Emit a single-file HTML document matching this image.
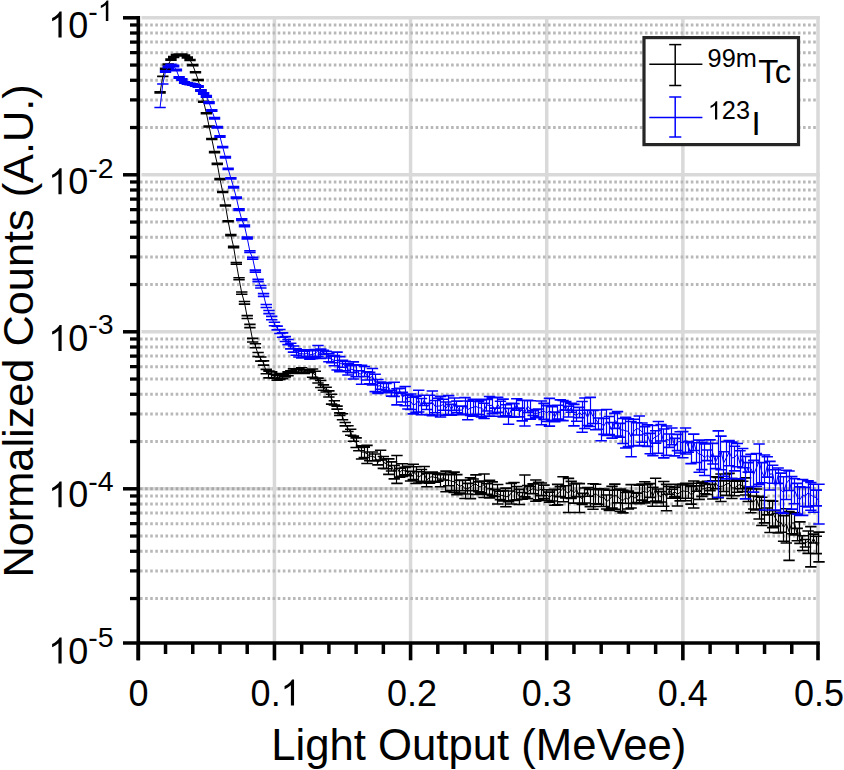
<!DOCTYPE html>
<html><head><meta charset="utf-8"><style>
html,body{margin:0;padding:0;background:#fff;width:844px;height:770px;overflow:hidden}
svg text{font-family:"Liberation Sans",sans-serif}
</style></head><body>
<svg width="844" height="770" viewBox="0 0 844 770" style="display:block">
<rect width="844" height="770" fill="#fff"/>
<line x1="141.5" y1="17.80" x2="819.8" y2="17.80" stroke="#d9d9d9" stroke-width="3.5"/>
<line x1="141.5" y1="174.80" x2="819.8" y2="174.80" stroke="#d9d9d9" stroke-width="3.5"/>
<line x1="141.5" y1="331.80" x2="819.8" y2="331.80" stroke="#d9d9d9" stroke-width="3.5"/>
<line x1="141.5" y1="488.80" x2="819.8" y2="488.80" stroke="#d9d9d9" stroke-width="3.5"/>
<line x1="140" y1="488.80" x2="818" y2="488.80" stroke="#a8a8a8" stroke-width="3" stroke-dasharray="2.6 2.5"/>
<line x1="274.44" y1="16" x2="274.44" y2="643.0" stroke="#d9d9d9" stroke-width="3.5"/>
<line x1="410.58" y1="16" x2="410.58" y2="643.0" stroke="#d9d9d9" stroke-width="3.5"/>
<line x1="546.72" y1="16" x2="546.72" y2="643.0" stroke="#d9d9d9" stroke-width="3.5"/>
<line x1="682.86" y1="16" x2="682.86" y2="643.0" stroke="#d9d9d9" stroke-width="3.5"/>
<line x1="818.00" y1="16" x2="818.00" y2="643.0" stroke="#d9d9d9" stroke-width="3.5"/>
<line x1="140" y1="127.54" x2="818" y2="127.54" stroke="#b8b8b8" stroke-width="3" stroke-dasharray="2.6 2.5"/>
<line x1="140" y1="99.89" x2="818" y2="99.89" stroke="#b8b8b8" stroke-width="3" stroke-dasharray="2.6 2.5"/>
<line x1="140" y1="80.28" x2="818" y2="80.28" stroke="#b8b8b8" stroke-width="3" stroke-dasharray="2.6 2.5"/>
<line x1="140" y1="65.06" x2="818" y2="65.06" stroke="#b8b8b8" stroke-width="3" stroke-dasharray="2.6 2.5"/>
<line x1="140" y1="52.63" x2="818" y2="52.63" stroke="#b8b8b8" stroke-width="3" stroke-dasharray="2.6 2.5"/>
<line x1="140" y1="42.12" x2="818" y2="42.12" stroke="#b8b8b8" stroke-width="3" stroke-dasharray="2.6 2.5"/>
<line x1="140" y1="33.01" x2="818" y2="33.01" stroke="#b8b8b8" stroke-width="3" stroke-dasharray="2.6 2.5"/>
<line x1="140" y1="24.98" x2="818" y2="24.98" stroke="#b8b8b8" stroke-width="3" stroke-dasharray="2.6 2.5"/>
<line x1="140" y1="284.54" x2="818" y2="284.54" stroke="#b8b8b8" stroke-width="3" stroke-dasharray="2.6 2.5"/>
<line x1="140" y1="256.89" x2="818" y2="256.89" stroke="#b8b8b8" stroke-width="3" stroke-dasharray="2.6 2.5"/>
<line x1="140" y1="237.28" x2="818" y2="237.28" stroke="#b8b8b8" stroke-width="3" stroke-dasharray="2.6 2.5"/>
<line x1="140" y1="222.06" x2="818" y2="222.06" stroke="#b8b8b8" stroke-width="3" stroke-dasharray="2.6 2.5"/>
<line x1="140" y1="209.63" x2="818" y2="209.63" stroke="#b8b8b8" stroke-width="3" stroke-dasharray="2.6 2.5"/>
<line x1="140" y1="199.12" x2="818" y2="199.12" stroke="#b8b8b8" stroke-width="3" stroke-dasharray="2.6 2.5"/>
<line x1="140" y1="190.01" x2="818" y2="190.01" stroke="#b8b8b8" stroke-width="3" stroke-dasharray="2.6 2.5"/>
<line x1="140" y1="181.98" x2="818" y2="181.98" stroke="#b8b8b8" stroke-width="3" stroke-dasharray="2.6 2.5"/>
<line x1="140" y1="441.54" x2="818" y2="441.54" stroke="#b8b8b8" stroke-width="3" stroke-dasharray="2.6 2.5"/>
<line x1="140" y1="413.89" x2="818" y2="413.89" stroke="#b8b8b8" stroke-width="3" stroke-dasharray="2.6 2.5"/>
<line x1="140" y1="394.28" x2="818" y2="394.28" stroke="#b8b8b8" stroke-width="3" stroke-dasharray="2.6 2.5"/>
<line x1="140" y1="379.06" x2="818" y2="379.06" stroke="#b8b8b8" stroke-width="3" stroke-dasharray="2.6 2.5"/>
<line x1="140" y1="366.63" x2="818" y2="366.63" stroke="#b8b8b8" stroke-width="3" stroke-dasharray="2.6 2.5"/>
<line x1="140" y1="356.12" x2="818" y2="356.12" stroke="#b8b8b8" stroke-width="3" stroke-dasharray="2.6 2.5"/>
<line x1="140" y1="347.01" x2="818" y2="347.01" stroke="#b8b8b8" stroke-width="3" stroke-dasharray="2.6 2.5"/>
<line x1="140" y1="338.98" x2="818" y2="338.98" stroke="#b8b8b8" stroke-width="3" stroke-dasharray="2.6 2.5"/>
<line x1="140" y1="598.54" x2="818" y2="598.54" stroke="#b8b8b8" stroke-width="3" stroke-dasharray="2.6 2.5"/>
<line x1="140" y1="570.89" x2="818" y2="570.89" stroke="#b8b8b8" stroke-width="3" stroke-dasharray="2.6 2.5"/>
<line x1="140" y1="551.28" x2="818" y2="551.28" stroke="#b8b8b8" stroke-width="3" stroke-dasharray="2.6 2.5"/>
<line x1="140" y1="536.06" x2="818" y2="536.06" stroke="#b8b8b8" stroke-width="3" stroke-dasharray="2.6 2.5"/>
<line x1="140" y1="523.63" x2="818" y2="523.63" stroke="#b8b8b8" stroke-width="3" stroke-dasharray="2.6 2.5"/>
<line x1="140" y1="513.12" x2="818" y2="513.12" stroke="#b8b8b8" stroke-width="3" stroke-dasharray="2.6 2.5"/>
<line x1="140" y1="504.01" x2="818" y2="504.01" stroke="#b8b8b8" stroke-width="3" stroke-dasharray="2.6 2.5"/>
<line x1="140" y1="495.98" x2="818" y2="495.98" stroke="#b8b8b8" stroke-width="3" stroke-dasharray="2.6 2.5"/>
<g><path d="M160.50 91.90V92.90M162.50 76.35V76.45M165.50 68.30V69.30M168.50 64.00V65.00M170.50 59.10V60.10M173.50 56.50V57.50M176.50 54.50V55.50M179.50 54.00V55.00M181.50 54.10V55.10M184.50 55.00V56.00M187.50 57.00V58.00M190.50 59.50V60.50M192.50 64.60V65.60M195.50 71.80V72.80M198.50 79.50V80.50M200.50 90.00V91.00M203.50 101.30V102.30M206.50 112.70V113.70M209.50 126.00V127.00M211.50 138.50V139.50M214.50 151.60V152.60M217.50 163.40V164.40M219.50 178.60V179.60M222.50 191.50V192.50M225.50 205.00V206.00M228.50 220.70V221.70M230.50 234.66V235.75M233.50 246.21V247.60M236.50 262.57V264.24M239.50 277.82V279.79M241.50 291.98V294.24M244.50 301.54V304.08M247.50 315.66V318.57M249.50 324.37V327.67M252.50 338.39V342.06M255.50 343.72V347.73M258.50 352.49V356.57M260.50 356.95V361.11M263.50 360.92V365.15M266.50 369.38V373.68M268.50 371.15V377.85M271.50 371.88V378.04M274.50 374.28V378.08M277.50 375.57V380.15M279.50 373.60V379.47M282.50 374.36V378.77M285.50 373.80V376.88M288.50 371.83V375.72M290.50 370.86V373.44M293.50 368.88V373.24M296.50 369.19V373.48M298.50 369.24V372.14M301.50 367.76V373.29M304.50 369.74V373.38M307.50 369.85V372.17M309.50 370.26V372.45M312.50 368.94V377.27M315.50 371.27V378.76M318.50 378.12V382.99M320.50 380.53V387.48M323.50 384.87V390.19M326.50 387.31V392.05M328.50 390.91V397.04M331.50 394.23V404.11M334.50 400.75V405.05M337.50 406.14V409.10M339.50 412.86V415.56M342.50 413.81V419.69M345.50 422.46V425.83M347.50 425.72V431.44M350.50 429.21V435.23M353.50 436.10V441.27M356.50 437.83V447.53M358.50 447.48V450.80M361.50 445.86V458.96M364.50 447.10V457.53M367.50 445.37V463.55M369.50 451.96V460.72M372.50 452.05V461.00M375.50 453.95V460.88M377.50 460.27V464.92M380.50 450.32V459.96M383.50 456.50V468.42M386.50 458.94V468.77M388.50 458.83V474.39M391.50 461.83V471.05M394.50 465.44V478.86M396.50 455.52V483.38M399.50 468.28V477.08M402.50 463.71V476.41M405.50 467.42V474.89M407.50 466.31V475.72M410.50 471.23V481.02M413.50 464.18V479.57M416.50 466.82V483.50M418.50 471.79V483.04M421.50 469.45V481.39M424.50 466.45V482.51M426.50 473.49V486.80M429.50 471.99V483.29M432.50 472.16V481.34M435.50 473.17V482.30M437.50 474.36V481.24M440.50 473.38V486.68M443.50 474.82V480.07M445.50 471.14V491.82M448.50 474.69V485.75M451.50 473.06V490.66M454.50 472.14V492.43M456.50 474.64V494.62M459.50 480.34V493.04M462.50 480.16V490.78M465.50 480.32V498.57M467.50 483.38V494.01M470.50 477.71V498.62M473.50 478.93V490.78M475.50 474.88V494.46M478.50 481.91V491.70M481.50 481.16V492.90M484.50 474.00V497.43M486.50 483.72V494.42M489.50 480.35V497.88M492.50 481.84V495.54M494.50 489.42V496.46M497.50 484.51V503.93M500.50 491.18V499.65M503.50 490.59V500.87M505.50 488.16V506.71M508.50 491.05V501.80M511.50 483.42V504.01M514.50 482.49V500.38M516.50 486.57V499.72M519.50 489.41V504.57M522.50 492.55V499.14M524.50 474.97V496.91M527.50 485.48V498.59M530.50 486.50V493.46M533.50 483.89V493.75M535.50 479.93V501.25M538.50 482.41V499.81M541.50 483.04V495.67M543.50 485.17V498.63M546.50 489.81V500.45M549.50 492.08V502.31M552.50 489.86V501.00M554.50 489.23V505.29M557.50 484.36V504.90M560.50 486.60V496.67M563.50 476.80V501.76M565.50 485.77V497.89M568.50 478.41V512.51M571.50 481.33V498.38M573.50 484.01V503.14M576.50 483.38V496.60M579.50 483.58V512.57M582.50 493.41V504.48M584.50 488.06V503.00M587.50 487.53V496.32M590.50 489.33V506.63M593.50 483.76V509.32M595.50 484.32V503.77M598.50 488.84V504.26M601.50 489.59V506.55M603.50 488.97V506.55M606.50 495.05V509.01M609.50 490.19V510.35M612.50 486.41V508.15M614.50 484.11V509.26M617.50 489.87V502.87M620.50 489.17V511.23M622.50 490.30V512.90M625.50 492.51V503.29M628.50 491.14V508.98M631.50 484.67V508.01M633.50 492.56V503.34M636.50 493.32V502.62M639.50 485.25V503.82M642.50 484.07V500.12M644.50 481.81V503.05M647.50 484.68V501.69M650.50 483.61V497.39M652.50 487.29V506.27M655.50 478.26V501.15M658.50 488.98V502.58M661.50 491.63V501.99M663.50 481.55V506.24M666.50 484.42V510.80M669.50 486.44V494.20M671.50 489.29V498.21M674.50 487.16V496.63M677.50 484.19V505.99M680.50 484.91V500.83M682.50 484.17V498.21M685.50 483.24V500.71M688.50 485.01V498.32M691.50 486.46V504.16M693.50 481.04V507.96M696.50 483.20V491.26M699.50 485.85V499.39M701.50 482.17V496.42M704.50 483.90V493.73M707.50 481.38V494.51M710.50 484.42V490.63M712.50 480.88V498.94M715.50 476.90V488.69M718.50 477.34V497.67M720.50 473.98V501.48M723.50 480.91V491.51M726.50 474.00V495.28M729.50 473.39V495.52M731.50 478.52V498.52M734.50 481.08V495.82M737.50 479.75V492.23M740.50 480.37V488.82M742.50 481.22V491.62M745.50 477.86V494.95M748.50 487.31V501.50M750.50 488.82V512.74M753.50 495.98V508.99M756.50 488.97V509.87M759.50 496.40V518.96M761.50 497.32V525.50M764.50 500.44V522.88M767.50 507.95V514.84M769.50 500.66V532.50M772.50 501.16V527.65M775.50 510.79V525.95M778.50 513.49V533.02M780.50 513.26V532.29M783.50 515.75V541.23M786.50 508.78V542.99M789.50 511.60V560.33M791.50 513.64V533.82M794.50 512.68V535.02M797.50 528.40V540.75M799.50 521.91V543.38M802.50 535.79V550.56M805.50 539.44V546.95M808.50 531.06V553.34M810.50 526.58V566.83M813.50 534.16V542.99M816.50 536.21V553.65M818.50 532.16V561.92" stroke="#000" stroke-width="1.2" fill="none"/><path d="M154.38 91.90h11.4M154.38 92.90h11.4M157.10 76.35h11.4M157.10 76.45h11.4M159.83 68.30h11.4M159.83 69.30h11.4M162.55 64.00h11.4M162.55 65.00h11.4M165.27 59.10h11.4M165.27 60.10h11.4M167.99 56.50h11.4M167.99 57.50h11.4M170.72 54.50h11.4M170.72 55.50h11.4M173.44 54.00h11.4M173.44 55.00h11.4M176.16 54.10h11.4M176.16 55.10h11.4M178.89 55.00h11.4M178.89 56.00h11.4M181.61 57.00h11.4M181.61 58.00h11.4M184.33 59.50h11.4M184.33 60.50h11.4M187.05 64.60h11.4M187.05 65.60h11.4M189.78 71.80h11.4M189.78 72.80h11.4M192.50 79.50h11.4M192.50 80.50h11.4M195.22 90.00h11.4M195.22 91.00h11.4M197.94 101.30h11.4M197.94 102.30h11.4M200.67 112.70h11.4M200.67 113.70h11.4M203.39 126.00h11.4M203.39 127.00h11.4M206.11 138.50h11.4M206.11 139.50h11.4M208.84 151.60h11.4M208.84 152.60h11.4M211.56 163.40h11.4M211.56 164.40h11.4M214.28 178.60h11.4M214.28 179.60h11.4M217.00 191.50h11.4M217.00 192.50h11.4M219.73 205.00h11.4M219.73 206.00h11.4M222.45 220.70h11.4M222.45 221.70h11.4M225.17 234.66h11.4M225.17 235.75h11.4M227.90 246.21h11.4M227.90 247.60h11.4M230.62 262.57h11.4M230.62 264.24h11.4M233.34 277.82h11.4M233.34 279.79h11.4M236.06 291.98h11.4M236.06 294.24h11.4M238.79 301.54h11.4M238.79 304.08h11.4M241.51 315.66h11.4M241.51 318.57h11.4M244.23 324.37h11.4M244.23 327.67h11.4M246.96 338.39h11.4M246.96 342.06h11.4M249.68 343.72h11.4M249.68 347.73h11.4M252.40 352.49h11.4M252.40 356.57h11.4M255.12 356.95h11.4M255.12 361.11h11.4M257.85 360.92h11.4M257.85 365.15h11.4M260.57 369.38h11.4M260.57 373.68h11.4M263.29 371.15h11.4M263.29 377.85h11.4M266.01 371.88h11.4M266.01 378.04h11.4M268.74 374.28h11.4M268.74 378.08h11.4M271.46 375.57h11.4M271.46 380.15h11.4M274.18 373.60h11.4M274.18 379.47h11.4M276.91 374.36h11.4M276.91 378.77h11.4M279.63 373.80h11.4M279.63 376.88h11.4M282.35 371.83h11.4M282.35 375.72h11.4M285.07 370.86h11.4M285.07 373.44h11.4M287.80 368.88h11.4M287.80 373.24h11.4M290.52 369.19h11.4M290.52 373.48h11.4M293.24 369.24h11.4M293.24 372.14h11.4M295.97 367.76h11.4M295.97 373.29h11.4M298.69 369.74h11.4M298.69 373.38h11.4M301.41 369.85h11.4M301.41 372.17h11.4M304.13 370.26h11.4M304.13 372.45h11.4M306.86 368.94h11.4M306.86 377.27h11.4M309.58 371.27h11.4M309.58 378.76h11.4M312.30 378.12h11.4M312.30 382.99h11.4M315.03 380.53h11.4M315.03 387.48h11.4M317.75 384.87h11.4M317.75 390.19h11.4M320.47 387.31h11.4M320.47 392.05h11.4M323.19 390.91h11.4M323.19 397.04h11.4M325.92 394.23h11.4M325.92 404.11h11.4M328.64 400.75h11.4M328.64 405.05h11.4M331.36 406.14h11.4M331.36 409.10h11.4M334.08 412.86h11.4M334.08 415.56h11.4M336.81 413.81h11.4M336.81 419.69h11.4M339.53 422.46h11.4M339.53 425.83h11.4M342.25 425.72h11.4M342.25 431.44h11.4M344.98 429.21h11.4M344.98 435.23h11.4M347.70 436.10h11.4M347.70 441.27h11.4M350.42 437.83h11.4M350.42 447.53h11.4M353.14 447.48h11.4M353.14 450.80h11.4M355.87 445.86h11.4M355.87 458.96h11.4M358.59 447.10h11.4M358.59 457.53h11.4M361.31 445.37h11.4M361.31 463.55h11.4M364.04 451.96h11.4M364.04 460.72h11.4M366.76 452.05h11.4M366.76 461.00h11.4M369.48 453.95h11.4M369.48 460.88h11.4M372.20 460.27h11.4M372.20 464.92h11.4M374.93 450.32h11.4M374.93 459.96h11.4M377.65 456.50h11.4M377.65 468.42h11.4M380.37 458.94h11.4M380.37 468.77h11.4M383.10 458.83h11.4M383.10 474.39h11.4M385.82 461.83h11.4M385.82 471.05h11.4M388.54 465.44h11.4M388.54 478.86h11.4M391.26 455.52h11.4M391.26 483.38h11.4M393.99 468.28h11.4M393.99 477.08h11.4M396.71 463.71h11.4M396.71 476.41h11.4M399.43 467.42h11.4M399.43 474.89h11.4M402.15 466.31h11.4M402.15 475.72h11.4M404.88 471.23h11.4M404.88 481.02h11.4M407.60 464.18h11.4M407.60 479.57h11.4M410.32 466.82h11.4M410.32 483.50h11.4M413.05 471.79h11.4M413.05 483.04h11.4M415.77 469.45h11.4M415.77 481.39h11.4M418.49 466.45h11.4M418.49 482.51h11.4M421.21 473.49h11.4M421.21 486.80h11.4M423.94 471.99h11.4M423.94 483.29h11.4M426.66 472.16h11.4M426.66 481.34h11.4M429.38 473.17h11.4M429.38 482.30h11.4M432.11 474.36h11.4M432.11 481.24h11.4M434.83 473.38h11.4M434.83 486.68h11.4M437.55 474.82h11.4M437.55 480.07h11.4M440.27 471.14h11.4M440.27 491.82h11.4M443.00 474.69h11.4M443.00 485.75h11.4M445.72 473.06h11.4M445.72 490.66h11.4M448.44 472.14h11.4M448.44 492.43h11.4M451.17 474.64h11.4M451.17 494.62h11.4M453.89 480.34h11.4M453.89 493.04h11.4M456.61 480.16h11.4M456.61 490.78h11.4M459.33 480.32h11.4M459.33 498.57h11.4M462.06 483.38h11.4M462.06 494.01h11.4M464.78 477.71h11.4M464.78 498.62h11.4M467.50 478.93h11.4M467.50 490.78h11.4M470.22 474.88h11.4M470.22 494.46h11.4M472.95 481.91h11.4M472.95 491.70h11.4M475.67 481.16h11.4M475.67 492.90h11.4M478.39 474.00h11.4M478.39 497.43h11.4M481.12 483.72h11.4M481.12 494.42h11.4M483.84 480.35h11.4M483.84 497.88h11.4M486.56 481.84h11.4M486.56 495.54h11.4M489.28 489.42h11.4M489.28 496.46h11.4M492.01 484.51h11.4M492.01 503.93h11.4M494.73 491.18h11.4M494.73 499.65h11.4M497.45 490.59h11.4M497.45 500.87h11.4M500.18 488.16h11.4M500.18 506.71h11.4M502.90 491.05h11.4M502.90 501.80h11.4M505.62 483.42h11.4M505.62 504.01h11.4M508.34 482.49h11.4M508.34 500.38h11.4M511.07 486.57h11.4M511.07 499.72h11.4M513.79 489.41h11.4M513.79 504.57h11.4M516.51 492.55h11.4M516.51 499.14h11.4M519.24 474.97h11.4M519.24 496.91h11.4M521.96 485.48h11.4M521.96 498.59h11.4M524.68 486.50h11.4M524.68 493.46h11.4M527.40 483.89h11.4M527.40 493.75h11.4M530.13 479.93h11.4M530.13 501.25h11.4M532.85 482.41h11.4M532.85 499.81h11.4M535.57 483.04h11.4M535.57 495.67h11.4M538.29 485.17h11.4M538.29 498.63h11.4M541.02 489.81h11.4M541.02 500.45h11.4M543.74 492.08h11.4M543.74 502.31h11.4M546.46 489.86h11.4M546.46 501.00h11.4M549.19 489.23h11.4M549.19 505.29h11.4M551.91 484.36h11.4M551.91 504.90h11.4M554.63 486.60h11.4M554.63 496.67h11.4M557.35 476.80h11.4M557.35 501.76h11.4M560.08 485.77h11.4M560.08 497.89h11.4M562.80 478.41h11.4M562.80 512.51h11.4M565.52 481.33h11.4M565.52 498.38h11.4M568.25 484.01h11.4M568.25 503.14h11.4M570.97 483.38h11.4M570.97 496.60h11.4M573.69 483.58h11.4M573.69 512.57h11.4M576.41 493.41h11.4M576.41 504.48h11.4M579.14 488.06h11.4M579.14 503.00h11.4M581.86 487.53h11.4M581.86 496.32h11.4M584.58 489.33h11.4M584.58 506.63h11.4M587.31 483.76h11.4M587.31 509.32h11.4M590.03 484.32h11.4M590.03 503.77h11.4M592.75 488.84h11.4M592.75 504.26h11.4M595.47 489.59h11.4M595.47 506.55h11.4M598.20 488.97h11.4M598.20 506.55h11.4M600.92 495.05h11.4M600.92 509.01h11.4M603.64 490.19h11.4M603.64 510.35h11.4M606.36 486.41h11.4M606.36 508.15h11.4M609.09 484.11h11.4M609.09 509.26h11.4M611.81 489.87h11.4M611.81 502.87h11.4M614.53 489.17h11.4M614.53 511.23h11.4M617.26 490.30h11.4M617.26 512.90h11.4M619.98 492.51h11.4M619.98 503.29h11.4M622.70 491.14h11.4M622.70 508.98h11.4M625.42 484.67h11.4M625.42 508.01h11.4M628.15 492.56h11.4M628.15 503.34h11.4M630.87 493.32h11.4M630.87 502.62h11.4M633.59 485.25h11.4M633.59 503.82h11.4M636.32 484.07h11.4M636.32 500.12h11.4M639.04 481.81h11.4M639.04 503.05h11.4M641.76 484.68h11.4M641.76 501.69h11.4M644.48 483.61h11.4M644.48 497.39h11.4M647.21 487.29h11.4M647.21 506.27h11.4M649.93 478.26h11.4M649.93 501.15h11.4M652.65 488.98h11.4M652.65 502.58h11.4M655.38 491.63h11.4M655.38 501.99h11.4M658.10 481.55h11.4M658.10 506.24h11.4M660.82 484.42h11.4M660.82 510.80h11.4M663.54 486.44h11.4M663.54 494.20h11.4M666.27 489.29h11.4M666.27 498.21h11.4M668.99 487.16h11.4M668.99 496.63h11.4M671.71 484.19h11.4M671.71 505.99h11.4M674.43 484.91h11.4M674.43 500.83h11.4M677.16 484.17h11.4M677.16 498.21h11.4M679.88 483.24h11.4M679.88 500.71h11.4M682.60 485.01h11.4M682.60 498.32h11.4M685.33 486.46h11.4M685.33 504.16h11.4M688.05 481.04h11.4M688.05 507.96h11.4M690.77 483.20h11.4M690.77 491.26h11.4M693.49 485.85h11.4M693.49 499.39h11.4M696.22 482.17h11.4M696.22 496.42h11.4M698.94 483.90h11.4M698.94 493.73h11.4M701.66 481.38h11.4M701.66 494.51h11.4M704.39 484.42h11.4M704.39 490.63h11.4M707.11 480.88h11.4M707.11 498.94h11.4M709.83 476.90h11.4M709.83 488.69h11.4M712.55 477.34h11.4M712.55 497.67h11.4M715.28 473.98h11.4M715.28 501.48h11.4M718.00 480.91h11.4M718.00 491.51h11.4M720.72 474.00h11.4M720.72 495.28h11.4M723.45 473.39h11.4M723.45 495.52h11.4M726.17 478.52h11.4M726.17 498.52h11.4M728.89 481.08h11.4M728.89 495.82h11.4M731.61 479.75h11.4M731.61 492.23h11.4M734.34 480.37h11.4M734.34 488.82h11.4M737.06 481.22h11.4M737.06 491.62h11.4M739.78 477.86h11.4M739.78 494.95h11.4M742.50 487.31h11.4M742.50 501.50h11.4M745.23 488.82h11.4M745.23 512.74h11.4M747.95 495.98h11.4M747.95 508.99h11.4M750.67 488.97h11.4M750.67 509.87h11.4M753.40 496.40h11.4M753.40 518.96h11.4M756.12 497.32h11.4M756.12 525.50h11.4M758.84 500.44h11.4M758.84 522.88h11.4M761.56 507.95h11.4M761.56 514.84h11.4M764.29 500.66h11.4M764.29 532.50h11.4M767.01 501.16h11.4M767.01 527.65h11.4M769.73 510.79h11.4M769.73 525.95h11.4M772.46 513.49h11.4M772.46 533.02h11.4M775.18 513.26h11.4M775.18 532.29h11.4M777.90 515.75h11.4M777.90 541.23h11.4M780.62 508.78h11.4M780.62 542.99h11.4M783.35 511.60h11.4M783.35 560.33h11.4M786.07 513.64h11.4M786.07 533.82h11.4M788.79 512.68h11.4M788.79 535.02h11.4M791.52 528.40h11.4M791.52 540.75h11.4M794.24 521.91h11.4M794.24 543.38h11.4M796.96 535.79h11.4M796.96 550.56h11.4M799.68 539.44h11.4M799.68 546.95h11.4M802.41 531.06h11.4M802.41 553.34h11.4M805.13 526.58h11.4M805.13 566.83h11.4M807.85 534.16h11.4M807.85 542.99h11.4M810.57 536.21h11.4M810.57 553.65h11.4M813.30 532.16h11.4M813.30 561.92h11.4" stroke="#000" stroke-width="1.6" fill="none"/><path d="M160.08 92.40 162.80 76.40 165.53 68.80 168.25 64.50 170.97 59.60 173.69 57.00 176.42 55.00 179.14 54.50 181.86 54.60 184.59 55.50 187.31 57.50 190.03 60.00 192.75 65.10 195.48 72.30 198.20 80.00 200.92 90.50 203.64 101.80 206.37 113.20 209.09 126.50 211.81 139.00 214.54 152.10 217.26 163.90 219.98 179.10 222.70 192.00 225.43 205.50 228.15 221.20 230.87 235.20 233.60 246.90 236.32 263.40 239.04 278.80 241.76 293.10 244.49 302.80 247.21 317.10 249.93 326.00 252.66 340.20 255.38 345.70 258.10 354.50 260.82 359.00 263.55 363.00 266.27 371.50 268.99 374.42 271.71 374.89 274.44 376.15 277.16 377.82 279.88 376.47 282.61 376.53 285.33 375.33 288.05 373.75 290.77 372.14 293.50 371.02 296.22 371.30 298.94 370.67 301.67 370.47 304.39 371.53 307.11 371.00 309.83 371.34 312.56 372.98 315.28 374.92 318.00 380.51 320.73 383.92 323.45 387.48 326.17 389.64 328.89 393.90 331.62 398.99 334.34 402.87 337.06 407.60 339.78 414.20 342.51 416.68 345.23 424.12 347.95 428.52 350.68 432.15 353.40 438.64 356.12 442.51 358.84 449.12 361.57 452.10 364.29 452.11 367.01 453.86 369.74 456.20 372.46 456.38 375.18 457.33 377.90 462.56 380.63 454.97 383.35 462.20 386.07 463.68 388.80 466.17 391.52 466.29 394.24 471.82 396.96 468.03 399.69 472.54 402.41 469.77 405.13 471.05 407.85 470.85 410.58 475.95 413.30 471.44 416.02 474.65 418.75 477.18 421.47 475.16 424.19 474.01 426.91 479.82 429.64 477.41 432.36 476.59 435.08 477.58 437.81 477.71 440.53 479.71 443.25 477.39 445.97 480.69 448.70 479.99 451.42 481.29 454.14 481.53 456.87 483.90 459.59 486.40 462.31 485.26 465.03 488.84 467.76 488.49 470.48 487.37 473.20 484.60 475.92 483.97 478.65 486.63 481.37 486.78 484.09 484.71 486.82 488.86 489.54 488.55 492.26 488.35 494.98 492.85 497.71 493.53 500.43 495.29 503.15 495.53 505.88 496.81 508.60 496.21 511.32 492.94 514.04 490.85 516.77 492.83 519.49 496.57 522.21 495.76 524.94 485.06 527.66 491.72 530.38 489.89 533.10 488.64 535.83 489.76 538.55 490.56 541.27 489.06 543.99 491.57 546.72 494.92 549.44 497.01 552.16 495.20 554.89 496.79 557.61 493.86 560.33 491.45 563.05 488.15 565.78 491.56 568.50 493.35 571.22 489.32 573.95 492.91 576.67 489.67 579.39 496.55 582.11 498.72 584.84 495.12 587.56 491.78 590.28 497.43 593.01 495.35 595.73 493.36 598.45 496.12 601.17 497.54 603.90 497.19 606.62 501.67 609.34 499.53 612.06 496.42 614.79 495.53 617.51 496.06 620.23 499.31 622.96 500.67 625.68 497.69 628.40 499.48 631.12 495.35 633.85 497.74 636.57 497.81 639.29 493.90 642.02 491.63 644.74 491.61 647.46 492.65 650.18 490.15 652.91 496.12 655.63 488.75 658.35 495.44 661.08 496.61 663.80 492.78 666.52 496.34 669.24 490.21 671.97 493.60 674.69 491.73 677.41 494.22 680.13 492.41 682.86 490.83 685.58 491.42 688.30 491.34 691.03 494.74 693.75 493.18 696.47 487.11 699.19 492.29 701.92 488.92 704.64 488.64 707.36 487.63 710.09 487.45 712.81 489.31 715.53 482.54 718.25 486.75 720.98 486.35 723.70 486.00 726.42 483.81 729.15 483.56 731.87 487.79 734.59 488.05 737.31 485.71 740.04 484.47 742.76 486.23 745.48 485.87 748.20 494.04 750.93 499.74 753.65 502.17 756.37 498.62 759.10 506.75 761.82 509.96 764.54 510.74 767.26 511.31 769.99 514.74 772.71 513.13 775.43 517.95 778.16 522.56 780.88 522.12 783.60 527.31 786.32 523.76 789.05 531.71 791.77 522.99 794.49 522.94 797.22 534.30 799.94 531.80 802.66 542.78 805.38 543.09 808.11 541.29 810.83 543.77 813.55 538.43 816.27 544.38 819.00 545.43" stroke="#000" stroke-width="1.0" fill="none" stroke-linejoin="round"/><path d="M160.50 107.45V107.55M162.50 83.95V84.05M165.50 70.70V72.30M168.50 66.20V67.80M170.50 64.20V65.80M173.50 65.20V66.80M176.50 69.20V70.80M179.50 76.70V78.30M181.50 78.70V80.30M184.50 81.70V83.30M187.50 82.70V84.30M190.50 83.20V84.80M192.50 83.70V85.30M195.50 84.70V86.30M198.50 85.70V87.30M200.50 89.71V91.30M203.50 92.73V94.28M206.50 95.65V97.16M209.50 101.86V103.34M211.50 109.68V111.13M214.50 117.50V118.91M217.50 126.62V127.99M219.50 135.84V137.17M222.50 146.45V147.75M225.50 156.57V157.83M228.50 168.29V169.52M230.50 177.69V178.92M233.50 186.65V187.96M236.50 197.00V198.40M239.50 208.86V210.35M241.50 218.92V220.49M244.50 224.97V226.64M247.50 237.13V238.88M249.50 250.69V252.53M252.50 257.34V259.27M255.50 270.09V272.12M258.50 279.39V281.63M260.50 285.48V287.94M263.50 293.67V296.36M266.50 304.56V307.47M268.50 310.46V313.58M271.50 316.35V319.69M274.50 322.25V325.80M277.50 326.14V329.91M279.50 329.53V333.52M282.50 332.84V337.23M285.50 336.64V341.44M288.50 339.45V344.65M290.50 343.25V348.87M293.50 346.05V352.08M296.50 348.86V355.29M298.50 350.17V357.01M301.50 349.75V357.87M304.50 351.23V357.21M307.50 349.92V356.30M309.50 350.72V359.16M312.50 350.56V358.61M315.50 349.55V357.58M318.50 345.49V356.23M320.50 348.93V358.45M323.50 350.20V354.17M326.50 351.32V358.06M328.50 353.67V361.82M331.50 356.14V362.73M334.50 355.55V365.82M337.50 352.13V370.07M339.50 356.64V371.62M342.50 360.22V367.31M345.50 361.33V370.71M347.50 363.87V374.96M350.50 365.60V372.62M353.50 361.89V379.07M356.50 364.78V376.69M358.50 370.73V376.82M361.50 365.24V384.18M364.50 366.44V376.43M367.50 371.71V380.00M369.50 372.41V383.73M372.50 368.51V384.86M375.50 374.31V391.64M377.50 379.53V393.39M380.50 382.03V389.24M383.50 383.23V392.82M386.50 383.44V390.90M388.50 382.49V392.60M391.50 390.53V396.13M394.50 382.32V396.36M396.50 388.68V404.91M399.50 388.33V393.08M402.50 392.27V401.97M405.50 386.48V405.73M407.50 395.09V408.95M410.50 394.01V409.50M413.50 397.24V413.92M416.50 396.11V412.32M418.50 390.27V412.01M421.50 398.55V414.64M424.50 395.32V405.43M426.50 403.24V409.55M429.50 395.30V414.87M432.50 390.96V415.75M435.50 400.51V412.77M437.50 398.19V415.07M440.50 396.37V416.96M443.50 399.18V410.21M445.50 402.00V415.16M448.50 395.60V414.61M451.50 404.37V415.28M454.50 397.95V410.34M456.50 401.13V412.77M459.50 406.02V414.74M462.50 406.13V414.06M465.50 397.64V414.66M467.50 401.01V419.70M470.50 401.32V415.39M473.50 399.47V416.24M475.50 399.33V414.26M478.50 401.39V414.79M481.50 400.04V416.89M484.50 403.20V418.54M486.50 399.35V410.99M489.50 396.51V416.11M492.50 397.78V413.63M494.50 408.09V412.97M497.50 397.32V412.38M500.50 401.22V416.28M503.50 399.17V417.01M505.50 404.74V415.91M508.50 408.40V424.30M511.50 403.31V416.60M514.50 403.66V417.19M516.50 398.72V410.17M519.50 408.09V416.83M522.50 400.35V420.89M524.50 400.32V425.98M527.50 400.19V412.55M530.50 400.69V419.08M533.50 410.58V415.52M535.50 409.47V417.62M538.50 408.98V417.04M541.50 401.00V424.77M543.50 403.40V419.42M546.50 405.64V421.45M549.50 398.33V426.11M552.50 406.73V420.19M554.50 412.13V421.76M557.50 405.19V418.99M560.50 399.89V420.37M563.50 400.56V420.64M565.50 401.58V410.13M568.50 406.26V416.98M571.50 403.42V412.23M573.50 404.34V425.85M576.50 410.19V421.22M579.50 407.42V417.66M582.50 401.50V432.21M584.50 398.03V428.57M587.50 410.16V425.49M590.50 397.36V426.43M593.50 410.36V423.45M595.50 409.99V429.75M598.50 418.00V429.22M601.50 410.03V440.80M603.50 418.47V434.35M606.50 409.56V435.37M609.50 416.52V434.67M612.50 422.45V438.08M614.50 413.37V428.34M617.50 411.64V436.03M620.50 423.40V437.25M622.50 418.51V443.48M625.50 417.26V448.05M628.50 418.86V446.63M631.50 421.47V456.75M633.50 419.28V445.93M636.50 422.70V434.99M639.50 416.06V445.45M642.50 422.99V442.27M644.50 426.61V445.97M647.50 424.72V446.46M650.50 433.36V453.73M652.50 425.45V455.62M655.50 430.74V443.08M658.50 421.54V453.25M661.50 424.52V440.93M663.50 428.93V457.86M666.50 426.04V455.40M669.50 434.01V447.42M671.50 428.02V444.82M674.50 438.36V455.84M677.50 434.33V450.58M680.50 431.69V453.00M682.50 431.63V457.70M685.50 427.99V453.93M688.50 441.62V452.18M691.50 442.82V463.58M693.50 434.10V450.57M696.50 442.79V462.43M699.50 440.15V472.26M701.50 442.24V469.61M704.50 443.91V475.45M707.50 450.02V460.64M710.50 439.89V481.51M712.50 443.42V464.03M715.50 456.20V468.61M718.50 430.83V497.50M720.50 436.08V469.68M723.50 451.72V476.22M726.50 441.72V478.91M729.50 440.61V465.82M731.50 442.01V478.65M734.50 446.28V470.84M737.50 443.56V466.75M740.50 450.79V478.88M742.50 448.51V467.74M745.50 456.39V498.84M748.50 462.59V472.11M750.50 454.26V486.79M753.50 460.36V492.17M756.50 453.55V486.55M759.50 443.95V484.38M761.50 462.60V482.77M764.50 454.96V509.98M767.50 456.71V477.12M769.50 461.42V490.06M772.50 465.32V483.32M775.50 469.79V509.99M778.50 467.93V483.41M780.50 473.11V512.44M783.50 476.79V513.36M786.50 470.25V499.57M789.50 470.96V490.52M791.50 476.66V509.15M794.50 478.68V503.72M797.50 483.41V513.97M799.50 486.87V515.41M802.50 479.46V515.42M805.50 487.37V506.19M808.50 480.91V507.06M810.50 482.45V510.27M813.50 484.20V512.20M816.50 490.15V505.90M818.50 484.27V523.96" stroke="#0000ff" stroke-width="1.2" fill="none"/><path d="M154.38 107.45h11.4M154.38 107.55h11.4M157.10 83.95h11.4M157.10 84.05h11.4M159.83 70.70h11.4M159.83 72.30h11.4M162.55 66.20h11.4M162.55 67.80h11.4M165.27 64.20h11.4M165.27 65.80h11.4M167.99 65.20h11.4M167.99 66.80h11.4M170.72 69.20h11.4M170.72 70.80h11.4M173.44 76.70h11.4M173.44 78.30h11.4M176.16 78.70h11.4M176.16 80.30h11.4M178.89 81.70h11.4M178.89 83.30h11.4M181.61 82.70h11.4M181.61 84.30h11.4M184.33 83.20h11.4M184.33 84.80h11.4M187.05 83.70h11.4M187.05 85.30h11.4M189.78 84.70h11.4M189.78 86.30h11.4M192.50 85.70h11.4M192.50 87.30h11.4M195.22 89.71h11.4M195.22 91.30h11.4M197.94 92.73h11.4M197.94 94.28h11.4M200.67 95.65h11.4M200.67 97.16h11.4M203.39 101.86h11.4M203.39 103.34h11.4M206.11 109.68h11.4M206.11 111.13h11.4M208.84 117.50h11.4M208.84 118.91h11.4M211.56 126.62h11.4M211.56 127.99h11.4M214.28 135.84h11.4M214.28 137.17h11.4M217.00 146.45h11.4M217.00 147.75h11.4M219.73 156.57h11.4M219.73 157.83h11.4M222.45 168.29h11.4M222.45 169.52h11.4M225.17 177.69h11.4M225.17 178.92h11.4M227.90 186.65h11.4M227.90 187.96h11.4M230.62 197.00h11.4M230.62 198.40h11.4M233.34 208.86h11.4M233.34 210.35h11.4M236.06 218.92h11.4M236.06 220.49h11.4M238.79 224.97h11.4M238.79 226.64h11.4M241.51 237.13h11.4M241.51 238.88h11.4M244.23 250.69h11.4M244.23 252.53h11.4M246.96 257.34h11.4M246.96 259.27h11.4M249.68 270.09h11.4M249.68 272.12h11.4M252.40 279.39h11.4M252.40 281.63h11.4M255.12 285.48h11.4M255.12 287.94h11.4M257.85 293.67h11.4M257.85 296.36h11.4M260.57 304.56h11.4M260.57 307.47h11.4M263.29 310.46h11.4M263.29 313.58h11.4M266.01 316.35h11.4M266.01 319.69h11.4M268.74 322.25h11.4M268.74 325.80h11.4M271.46 326.14h11.4M271.46 329.91h11.4M274.18 329.53h11.4M274.18 333.52h11.4M276.91 332.84h11.4M276.91 337.23h11.4M279.63 336.64h11.4M279.63 341.44h11.4M282.35 339.45h11.4M282.35 344.65h11.4M285.07 343.25h11.4M285.07 348.87h11.4M287.80 346.05h11.4M287.80 352.08h11.4M290.52 348.86h11.4M290.52 355.29h11.4M293.24 350.17h11.4M293.24 357.01h11.4M295.97 349.75h11.4M295.97 357.87h11.4M298.69 351.23h11.4M298.69 357.21h11.4M301.41 349.92h11.4M301.41 356.30h11.4M304.13 350.72h11.4M304.13 359.16h11.4M306.86 350.56h11.4M306.86 358.61h11.4M309.58 349.55h11.4M309.58 357.58h11.4M312.30 345.49h11.4M312.30 356.23h11.4M315.03 348.93h11.4M315.03 358.45h11.4M317.75 350.20h11.4M317.75 354.17h11.4M320.47 351.32h11.4M320.47 358.06h11.4M323.19 353.67h11.4M323.19 361.82h11.4M325.92 356.14h11.4M325.92 362.73h11.4M328.64 355.55h11.4M328.64 365.82h11.4M331.36 352.13h11.4M331.36 370.07h11.4M334.08 356.64h11.4M334.08 371.62h11.4M336.81 360.22h11.4M336.81 367.31h11.4M339.53 361.33h11.4M339.53 370.71h11.4M342.25 363.87h11.4M342.25 374.96h11.4M344.98 365.60h11.4M344.98 372.62h11.4M347.70 361.89h11.4M347.70 379.07h11.4M350.42 364.78h11.4M350.42 376.69h11.4M353.14 370.73h11.4M353.14 376.82h11.4M355.87 365.24h11.4M355.87 384.18h11.4M358.59 366.44h11.4M358.59 376.43h11.4M361.31 371.71h11.4M361.31 380.00h11.4M364.04 372.41h11.4M364.04 383.73h11.4M366.76 368.51h11.4M366.76 384.86h11.4M369.48 374.31h11.4M369.48 391.64h11.4M372.20 379.53h11.4M372.20 393.39h11.4M374.93 382.03h11.4M374.93 389.24h11.4M377.65 383.23h11.4M377.65 392.82h11.4M380.37 383.44h11.4M380.37 390.90h11.4M383.10 382.49h11.4M383.10 392.60h11.4M385.82 390.53h11.4M385.82 396.13h11.4M388.54 382.32h11.4M388.54 396.36h11.4M391.26 388.68h11.4M391.26 404.91h11.4M393.99 388.33h11.4M393.99 393.08h11.4M396.71 392.27h11.4M396.71 401.97h11.4M399.43 386.48h11.4M399.43 405.73h11.4M402.15 395.09h11.4M402.15 408.95h11.4M404.88 394.01h11.4M404.88 409.50h11.4M407.60 397.24h11.4M407.60 413.92h11.4M410.32 396.11h11.4M410.32 412.32h11.4M413.05 390.27h11.4M413.05 412.01h11.4M415.77 398.55h11.4M415.77 414.64h11.4M418.49 395.32h11.4M418.49 405.43h11.4M421.21 403.24h11.4M421.21 409.55h11.4M423.94 395.30h11.4M423.94 414.87h11.4M426.66 390.96h11.4M426.66 415.75h11.4M429.38 400.51h11.4M429.38 412.77h11.4M432.11 398.19h11.4M432.11 415.07h11.4M434.83 396.37h11.4M434.83 416.96h11.4M437.55 399.18h11.4M437.55 410.21h11.4M440.27 402.00h11.4M440.27 415.16h11.4M443.00 395.60h11.4M443.00 414.61h11.4M445.72 404.37h11.4M445.72 415.28h11.4M448.44 397.95h11.4M448.44 410.34h11.4M451.17 401.13h11.4M451.17 412.77h11.4M453.89 406.02h11.4M453.89 414.74h11.4M456.61 406.13h11.4M456.61 414.06h11.4M459.33 397.64h11.4M459.33 414.66h11.4M462.06 401.01h11.4M462.06 419.70h11.4M464.78 401.32h11.4M464.78 415.39h11.4M467.50 399.47h11.4M467.50 416.24h11.4M470.22 399.33h11.4M470.22 414.26h11.4M472.95 401.39h11.4M472.95 414.79h11.4M475.67 400.04h11.4M475.67 416.89h11.4M478.39 403.20h11.4M478.39 418.54h11.4M481.12 399.35h11.4M481.12 410.99h11.4M483.84 396.51h11.4M483.84 416.11h11.4M486.56 397.78h11.4M486.56 413.63h11.4M489.28 408.09h11.4M489.28 412.97h11.4M492.01 397.32h11.4M492.01 412.38h11.4M494.73 401.22h11.4M494.73 416.28h11.4M497.45 399.17h11.4M497.45 417.01h11.4M500.18 404.74h11.4M500.18 415.91h11.4M502.90 408.40h11.4M502.90 424.30h11.4M505.62 403.31h11.4M505.62 416.60h11.4M508.34 403.66h11.4M508.34 417.19h11.4M511.07 398.72h11.4M511.07 410.17h11.4M513.79 408.09h11.4M513.79 416.83h11.4M516.51 400.35h11.4M516.51 420.89h11.4M519.24 400.32h11.4M519.24 425.98h11.4M521.96 400.19h11.4M521.96 412.55h11.4M524.68 400.69h11.4M524.68 419.08h11.4M527.40 410.58h11.4M527.40 415.52h11.4M530.13 409.47h11.4M530.13 417.62h11.4M532.85 408.98h11.4M532.85 417.04h11.4M535.57 401.00h11.4M535.57 424.77h11.4M538.29 403.40h11.4M538.29 419.42h11.4M541.02 405.64h11.4M541.02 421.45h11.4M543.74 398.33h11.4M543.74 426.11h11.4M546.46 406.73h11.4M546.46 420.19h11.4M549.19 412.13h11.4M549.19 421.76h11.4M551.91 405.19h11.4M551.91 418.99h11.4M554.63 399.89h11.4M554.63 420.37h11.4M557.35 400.56h11.4M557.35 420.64h11.4M560.08 401.58h11.4M560.08 410.13h11.4M562.80 406.26h11.4M562.80 416.98h11.4M565.52 403.42h11.4M565.52 412.23h11.4M568.25 404.34h11.4M568.25 425.85h11.4M570.97 410.19h11.4M570.97 421.22h11.4M573.69 407.42h11.4M573.69 417.66h11.4M576.41 401.50h11.4M576.41 432.21h11.4M579.14 398.03h11.4M579.14 428.57h11.4M581.86 410.16h11.4M581.86 425.49h11.4M584.58 397.36h11.4M584.58 426.43h11.4M587.31 410.36h11.4M587.31 423.45h11.4M590.03 409.99h11.4M590.03 429.75h11.4M592.75 418.00h11.4M592.75 429.22h11.4M595.47 410.03h11.4M595.47 440.80h11.4M598.20 418.47h11.4M598.20 434.35h11.4M600.92 409.56h11.4M600.92 435.37h11.4M603.64 416.52h11.4M603.64 434.67h11.4M606.36 422.45h11.4M606.36 438.08h11.4M609.09 413.37h11.4M609.09 428.34h11.4M611.81 411.64h11.4M611.81 436.03h11.4M614.53 423.40h11.4M614.53 437.25h11.4M617.26 418.51h11.4M617.26 443.48h11.4M619.98 417.26h11.4M619.98 448.05h11.4M622.70 418.86h11.4M622.70 446.63h11.4M625.42 421.47h11.4M625.42 456.75h11.4M628.15 419.28h11.4M628.15 445.93h11.4M630.87 422.70h11.4M630.87 434.99h11.4M633.59 416.06h11.4M633.59 445.45h11.4M636.32 422.99h11.4M636.32 442.27h11.4M639.04 426.61h11.4M639.04 445.97h11.4M641.76 424.72h11.4M641.76 446.46h11.4M644.48 433.36h11.4M644.48 453.73h11.4M647.21 425.45h11.4M647.21 455.62h11.4M649.93 430.74h11.4M649.93 443.08h11.4M652.65 421.54h11.4M652.65 453.25h11.4M655.38 424.52h11.4M655.38 440.93h11.4M658.10 428.93h11.4M658.10 457.86h11.4M660.82 426.04h11.4M660.82 455.40h11.4M663.54 434.01h11.4M663.54 447.42h11.4M666.27 428.02h11.4M666.27 444.82h11.4M668.99 438.36h11.4M668.99 455.84h11.4M671.71 434.33h11.4M671.71 450.58h11.4M674.43 431.69h11.4M674.43 453.00h11.4M677.16 431.63h11.4M677.16 457.70h11.4M679.88 427.99h11.4M679.88 453.93h11.4M682.60 441.62h11.4M682.60 452.18h11.4M685.33 442.82h11.4M685.33 463.58h11.4M688.05 434.10h11.4M688.05 450.57h11.4M690.77 442.79h11.4M690.77 462.43h11.4M693.49 440.15h11.4M693.49 472.26h11.4M696.22 442.24h11.4M696.22 469.61h11.4M698.94 443.91h11.4M698.94 475.45h11.4M701.66 450.02h11.4M701.66 460.64h11.4M704.39 439.89h11.4M704.39 481.51h11.4M707.11 443.42h11.4M707.11 464.03h11.4M709.83 456.20h11.4M709.83 468.61h11.4M712.55 430.83h11.4M712.55 497.50h11.4M715.28 436.08h11.4M715.28 469.68h11.4M718.00 451.72h11.4M718.00 476.22h11.4M720.72 441.72h11.4M720.72 478.91h11.4M723.45 440.61h11.4M723.45 465.82h11.4M726.17 442.01h11.4M726.17 478.65h11.4M728.89 446.28h11.4M728.89 470.84h11.4M731.61 443.56h11.4M731.61 466.75h11.4M734.34 450.79h11.4M734.34 478.88h11.4M737.06 448.51h11.4M737.06 467.74h11.4M739.78 456.39h11.4M739.78 498.84h11.4M742.50 462.59h11.4M742.50 472.11h11.4M745.23 454.26h11.4M745.23 486.79h11.4M747.95 460.36h11.4M747.95 492.17h11.4M750.67 453.55h11.4M750.67 486.55h11.4M753.40 443.95h11.4M753.40 484.38h11.4M756.12 462.60h11.4M756.12 482.77h11.4M758.84 454.96h11.4M758.84 509.98h11.4M761.56 456.71h11.4M761.56 477.12h11.4M764.29 461.42h11.4M764.29 490.06h11.4M767.01 465.32h11.4M767.01 483.32h11.4M769.73 469.79h11.4M769.73 509.99h11.4M772.46 467.93h11.4M772.46 483.41h11.4M775.18 473.11h11.4M775.18 512.44h11.4M777.90 476.79h11.4M777.90 513.36h11.4M780.62 470.25h11.4M780.62 499.57h11.4M783.35 470.96h11.4M783.35 490.52h11.4M786.07 476.66h11.4M786.07 509.15h11.4M788.79 478.68h11.4M788.79 503.72h11.4M791.52 483.41h11.4M791.52 513.97h11.4M794.24 486.87h11.4M794.24 515.41h11.4M796.96 479.46h11.4M796.96 515.42h11.4M799.68 487.37h11.4M799.68 506.19h11.4M802.41 480.91h11.4M802.41 507.06h11.4M805.13 482.45h11.4M805.13 510.27h11.4M807.85 484.20h11.4M807.85 512.20h11.4M810.57 490.15h11.4M810.57 505.90h11.4M813.30 484.27h11.4M813.30 523.96h11.4" stroke="#0000ff" stroke-width="1.6" fill="none"/><path d="M160.08 107.50 162.80 84.00 165.53 71.50 168.25 67.00 170.97 65.00 173.69 66.00 176.42 70.00 179.14 77.50 181.86 79.50 184.59 82.50 187.31 83.50 190.03 84.00 192.75 84.50 195.48 85.50 198.20 86.50 200.92 90.50 203.64 93.50 206.37 96.40 209.09 102.60 211.81 110.40 214.54 118.20 217.26 127.30 219.98 136.50 222.70 147.10 225.43 157.20 228.15 168.90 230.87 178.30 233.60 187.30 236.32 197.70 239.04 209.60 241.76 219.70 244.49 225.80 247.21 238.00 249.93 251.60 252.66 258.30 255.38 271.10 258.10 280.50 260.82 286.70 263.55 295.00 266.27 306.00 268.99 312.00 271.71 318.00 274.44 324.00 277.16 328.00 279.88 331.50 282.61 335.00 285.33 339.00 288.05 342.00 290.77 346.00 293.50 349.00 296.22 352.00 298.94 353.50 301.67 353.69 304.39 354.15 307.11 353.04 309.83 354.81 312.56 354.46 315.28 353.45 318.00 350.65 320.73 353.52 323.45 352.15 326.17 354.60 328.89 357.62 331.62 359.36 334.34 360.49 337.06 360.51 339.78 363.72 342.51 363.68 345.23 365.86 347.95 369.19 350.68 369.02 353.40 369.94 356.12 370.48 358.84 373.71 361.57 374.05 364.29 371.25 367.01 375.73 369.74 377.84 372.46 376.19 375.18 382.43 377.90 386.11 380.63 385.54 383.35 387.86 386.07 387.07 388.80 387.36 391.52 393.27 394.24 388.98 396.96 396.31 399.69 390.66 402.41 396.95 405.13 395.43 407.85 401.67 410.58 401.31 413.30 405.07 416.02 403.74 418.75 400.28 421.47 406.12 424.19 400.19 426.91 406.32 429.64 404.38 432.36 402.24 435.08 406.37 437.81 406.11 440.53 405.90 443.25 404.47 445.97 408.27 448.70 404.45 451.42 409.61 454.14 403.86 456.87 406.70 459.59 410.24 462.31 409.98 465.03 405.62 467.76 409.71 470.48 408.00 473.20 407.34 475.92 406.39 478.65 407.76 481.37 407.95 484.09 410.44 486.82 404.92 489.54 405.61 492.26 405.25 494.98 410.48 497.71 404.44 500.43 408.34 503.15 407.51 505.88 410.10 508.60 415.89 511.32 409.63 514.04 410.09 516.77 404.20 519.49 412.32 522.21 409.85 524.94 411.95 527.66 406.09 530.38 409.27 533.10 413.01 535.83 413.43 538.55 412.90 541.27 411.85 543.99 410.94 546.72 413.09 549.44 410.81 552.16 413.13 554.89 416.77 557.61 411.74 560.33 409.36 563.05 409.86 565.78 405.72 568.50 411.41 571.22 407.68 573.95 414.25 576.67 415.48 579.39 412.35 582.11 415.14 584.84 411.60 587.56 417.39 590.28 410.36 593.01 416.59 595.73 419.16 598.45 423.38 601.17 423.70 603.90 425.95 606.62 421.25 609.34 424.99 612.06 429.82 614.79 420.44 617.51 422.75 620.23 429.97 622.96 429.86 625.68 430.93 628.40 431.34 631.12 436.85 633.85 431.32 636.57 428.56 639.29 429.19 642.02 431.95 644.74 435.60 647.46 434.73 650.18 442.79 652.91 438.88 655.63 436.63 658.35 435.57 661.08 432.23 663.80 441.87 666.52 439.16 669.24 440.39 671.97 435.90 674.69 446.54 677.41 441.97 680.13 441.52 682.86 443.43 685.58 439.73 688.30 446.70 691.03 452.41 693.75 441.84 696.47 451.90 699.19 454.33 701.92 454.56 704.64 457.87 707.36 455.12 710.09 457.57 712.81 452.95 715.53 462.12 718.25 456.32 720.98 450.83 723.70 462.88 726.42 457.81 729.15 452.05 731.87 457.90 734.59 457.46 737.31 454.17 740.04 463.40 742.76 457.45 745.48 474.36 748.20 467.19 750.93 468.61 753.65 474.42 756.37 468.08 759.10 461.21 761.82 471.95 764.54 477.07 767.26 466.15 769.99 474.25 772.71 473.73 775.43 486.97 778.16 475.23 780.88 489.98 783.60 492.65 786.32 483.34 789.05 480.04 791.77 490.99 794.49 490.06 797.22 496.99 799.94 499.66 802.66 495.10 805.38 496.13 808.11 492.74 810.83 494.95 813.55 496.77 816.27 497.57 819.00 501.27" stroke="#0000ff" stroke-width="1.0" fill="none" stroke-linejoin="round"/></g>
<line x1="138.3" y1="16" x2="138.3" y2="660.3" stroke="#000" stroke-width="3.6"/>
<line x1="123" y1="643.0" x2="819.8" y2="643.0" stroke="#000" stroke-width="3.6"/>
<line x1="123" y1="17.80" x2="138.3" y2="17.80" stroke="#000" stroke-width="3.5"/>
<line x1="123" y1="174.80" x2="138.3" y2="174.80" stroke="#000" stroke-width="3.5"/>
<line x1="123" y1="331.80" x2="138.3" y2="331.80" stroke="#000" stroke-width="3.5"/>
<line x1="123" y1="488.80" x2="138.3" y2="488.80" stroke="#000" stroke-width="3.5"/>
<line x1="130" y1="127.54" x2="138.3" y2="127.54" stroke="#000" stroke-width="3.3"/>
<line x1="130" y1="99.89" x2="138.3" y2="99.89" stroke="#000" stroke-width="3.3"/>
<line x1="130" y1="80.28" x2="138.3" y2="80.28" stroke="#000" stroke-width="3.3"/>
<line x1="130" y1="65.06" x2="138.3" y2="65.06" stroke="#000" stroke-width="3.3"/>
<line x1="130" y1="52.63" x2="138.3" y2="52.63" stroke="#000" stroke-width="3.3"/>
<line x1="130" y1="42.12" x2="138.3" y2="42.12" stroke="#000" stroke-width="3.3"/>
<line x1="130" y1="33.01" x2="138.3" y2="33.01" stroke="#000" stroke-width="3.3"/>
<line x1="130" y1="24.98" x2="138.3" y2="24.98" stroke="#000" stroke-width="3.3"/>
<line x1="130" y1="284.54" x2="138.3" y2="284.54" stroke="#000" stroke-width="3.3"/>
<line x1="130" y1="256.89" x2="138.3" y2="256.89" stroke="#000" stroke-width="3.3"/>
<line x1="130" y1="237.28" x2="138.3" y2="237.28" stroke="#000" stroke-width="3.3"/>
<line x1="130" y1="222.06" x2="138.3" y2="222.06" stroke="#000" stroke-width="3.3"/>
<line x1="130" y1="209.63" x2="138.3" y2="209.63" stroke="#000" stroke-width="3.3"/>
<line x1="130" y1="199.12" x2="138.3" y2="199.12" stroke="#000" stroke-width="3.3"/>
<line x1="130" y1="190.01" x2="138.3" y2="190.01" stroke="#000" stroke-width="3.3"/>
<line x1="130" y1="181.98" x2="138.3" y2="181.98" stroke="#000" stroke-width="3.3"/>
<line x1="130" y1="441.54" x2="138.3" y2="441.54" stroke="#000" stroke-width="3.3"/>
<line x1="130" y1="413.89" x2="138.3" y2="413.89" stroke="#000" stroke-width="3.3"/>
<line x1="130" y1="394.28" x2="138.3" y2="394.28" stroke="#000" stroke-width="3.3"/>
<line x1="130" y1="379.06" x2="138.3" y2="379.06" stroke="#000" stroke-width="3.3"/>
<line x1="130" y1="366.63" x2="138.3" y2="366.63" stroke="#000" stroke-width="3.3"/>
<line x1="130" y1="356.12" x2="138.3" y2="356.12" stroke="#000" stroke-width="3.3"/>
<line x1="130" y1="347.01" x2="138.3" y2="347.01" stroke="#000" stroke-width="3.3"/>
<line x1="130" y1="338.98" x2="138.3" y2="338.98" stroke="#000" stroke-width="3.3"/>
<line x1="130" y1="598.54" x2="138.3" y2="598.54" stroke="#000" stroke-width="3.3"/>
<line x1="130" y1="570.89" x2="138.3" y2="570.89" stroke="#000" stroke-width="3.3"/>
<line x1="130" y1="551.28" x2="138.3" y2="551.28" stroke="#000" stroke-width="3.3"/>
<line x1="130" y1="536.06" x2="138.3" y2="536.06" stroke="#000" stroke-width="3.3"/>
<line x1="130" y1="523.63" x2="138.3" y2="523.63" stroke="#000" stroke-width="3.3"/>
<line x1="130" y1="513.12" x2="138.3" y2="513.12" stroke="#000" stroke-width="3.3"/>
<line x1="130" y1="504.01" x2="138.3" y2="504.01" stroke="#000" stroke-width="3.3"/>
<line x1="130" y1="495.98" x2="138.3" y2="495.98" stroke="#000" stroke-width="3.3"/>
<line x1="138.30" y1="643.0" x2="138.30" y2="660.3" stroke="#000" stroke-width="3.6"/>
<line x1="274.44" y1="643.0" x2="274.44" y2="660.3" stroke="#000" stroke-width="3.6"/>
<line x1="410.58" y1="643.0" x2="410.58" y2="660.3" stroke="#000" stroke-width="3.6"/>
<line x1="546.72" y1="643.0" x2="546.72" y2="660.3" stroke="#000" stroke-width="3.6"/>
<line x1="682.86" y1="643.0" x2="682.86" y2="660.3" stroke="#000" stroke-width="3.6"/>
<line x1="818.00" y1="643.0" x2="818.00" y2="660.3" stroke="#000" stroke-width="3.6"/>
<line x1="165.53" y1="643.0" x2="165.53" y2="654" stroke="#000" stroke-width="3.5"/>
<line x1="192.76" y1="643.0" x2="192.76" y2="654" stroke="#000" stroke-width="3.5"/>
<line x1="219.98" y1="643.0" x2="219.98" y2="654" stroke="#000" stroke-width="3.5"/>
<line x1="247.21" y1="643.0" x2="247.21" y2="654" stroke="#000" stroke-width="3.5"/>
<line x1="301.67" y1="643.0" x2="301.67" y2="654" stroke="#000" stroke-width="3.5"/>
<line x1="328.90" y1="643.0" x2="328.90" y2="654" stroke="#000" stroke-width="3.5"/>
<line x1="356.12" y1="643.0" x2="356.12" y2="654" stroke="#000" stroke-width="3.5"/>
<line x1="383.35" y1="643.0" x2="383.35" y2="654" stroke="#000" stroke-width="3.5"/>
<line x1="437.81" y1="643.0" x2="437.81" y2="654" stroke="#000" stroke-width="3.5"/>
<line x1="465.04" y1="643.0" x2="465.04" y2="654" stroke="#000" stroke-width="3.5"/>
<line x1="492.26" y1="643.0" x2="492.26" y2="654" stroke="#000" stroke-width="3.5"/>
<line x1="519.49" y1="643.0" x2="519.49" y2="654" stroke="#000" stroke-width="3.5"/>
<line x1="573.95" y1="643.0" x2="573.95" y2="654" stroke="#000" stroke-width="3.5"/>
<line x1="601.18" y1="643.0" x2="601.18" y2="654" stroke="#000" stroke-width="3.5"/>
<line x1="628.40" y1="643.0" x2="628.40" y2="654" stroke="#000" stroke-width="3.5"/>
<line x1="655.63" y1="643.0" x2="655.63" y2="654" stroke="#000" stroke-width="3.5"/>
<line x1="710.09" y1="643.0" x2="710.09" y2="654" stroke="#000" stroke-width="3.5"/>
<line x1="737.32" y1="643.0" x2="737.32" y2="654" stroke="#000" stroke-width="3.5"/>
<line x1="764.54" y1="643.0" x2="764.54" y2="654" stroke="#000" stroke-width="3.5"/>
<line x1="791.77" y1="643.0" x2="791.77" y2="654" stroke="#000" stroke-width="3.5"/>
<path d="M763 0H583V1147C540 1106 483 1064 412 1023C342 982 279 951 223 930V1104C324 1151 412 1209 487 1276C563 1343 616 1409 647 1472H763Z" transform="translate(48.20,37.50) scale(0.01758,-0.01758)" fill="#000"/>
<text x="68.22" y="37.50" font-family="Liberation Sans" font-size="36">0</text>
<text x="88.23" y="20.90" font-family="Liberation Sans" font-size="28.5">-</text>
<path d="M763 0H583V1147C540 1106 483 1064 412 1023C342 982 279 951 223 930V1104C324 1151 412 1209 487 1276C563 1343 616 1409 647 1472H763Z" transform="translate(97.72,20.90) scale(0.01392,-0.01392)" fill="#000"/>
<path d="M763 0H583V1147C540 1106 483 1064 412 1023C342 982 279 951 223 930V1104C324 1151 412 1209 487 1276C563 1343 616 1409 647 1472H763Z" transform="translate(48.20,194.20) scale(0.01758,-0.01758)" fill="#000"/>
<text x="68.22" y="194.20" font-family="Liberation Sans" font-size="36">0</text>
<text x="88.23" y="177.60" font-family="Liberation Sans" font-size="28.5">-</text>
<text x="97.72" y="177.60" font-family="Liberation Sans" font-size="28.5">2</text>
<path d="M763 0H583V1147C540 1106 483 1064 412 1023C342 982 279 951 223 930V1104C324 1151 412 1209 487 1276C563 1343 616 1409 647 1472H763Z" transform="translate(48.20,350.90) scale(0.01758,-0.01758)" fill="#000"/>
<text x="68.22" y="350.90" font-family="Liberation Sans" font-size="36">0</text>
<text x="88.23" y="334.30" font-family="Liberation Sans" font-size="28.5">-</text>
<text x="97.72" y="334.30" font-family="Liberation Sans" font-size="28.5">3</text>
<path d="M763 0H583V1147C540 1106 483 1064 412 1023C342 982 279 951 223 930V1104C324 1151 412 1209 487 1276C563 1343 616 1409 647 1472H763Z" transform="translate(48.20,507.30) scale(0.01758,-0.01758)" fill="#000"/>
<text x="68.22" y="507.30" font-family="Liberation Sans" font-size="36">0</text>
<text x="88.23" y="490.70" font-family="Liberation Sans" font-size="28.5">-</text>
<text x="97.72" y="490.70" font-family="Liberation Sans" font-size="28.5">4</text>
<path d="M763 0H583V1147C540 1106 483 1064 412 1023C342 982 279 951 223 930V1104C324 1151 412 1209 487 1276C563 1343 616 1409 647 1472H763Z" transform="translate(48.20,663.50) scale(0.01758,-0.01758)" fill="#000"/>
<text x="68.22" y="663.50" font-family="Liberation Sans" font-size="36">0</text>
<text x="88.23" y="646.90" font-family="Liberation Sans" font-size="28.5">-</text>
<text x="97.72" y="646.90" font-family="Liberation Sans" font-size="28.5">5</text>
<text x="138.50" y="705.5" text-anchor="middle" font-family="Liberation Sans" font-size="36">0</text>
<text x="250.62" y="705.5" font-family="Liberation Sans" font-size="36">0.</text>
<path d="M763 0H583V1147C540 1106 483 1064 412 1023C342 982 279 951 223 930V1104C324 1151 412 1209 487 1276C563 1343 616 1409 647 1472H763Z" transform="translate(280.64,705.50) scale(0.01758,-0.01758)" fill="#000"/>
<text x="411.98" y="705.5" text-anchor="middle" font-family="Liberation Sans" font-size="36">0.2</text>
<text x="546.72" y="705.5" text-anchor="middle" font-family="Liberation Sans" font-size="36">0.3</text>
<text x="682.86" y="705.5" text-anchor="middle" font-family="Liberation Sans" font-size="36">0.4</text>
<text x="819.10" y="705.5" text-anchor="middle" font-family="Liberation Sans" font-size="36">0.5</text>
<text x="478.8" y="760" text-anchor="middle" font-family="Liberation Sans" font-size="43.7">Light Output (MeVee)</text>
<text transform="translate(32.7,330.9) rotate(-90)" x="0" y="0" text-anchor="middle" font-family="Liberation Sans" font-size="43.3">Normalized Counts (A.U.)</text>
<rect x="644" y="37.6" width="154.5" height="107" fill="#fff" stroke="#262626" stroke-width="3.2"/>
<g stroke="#000" stroke-width="1.5" fill="none"><line x1="649.3" y1="64.3" x2="702.4" y2="64.3"/><line x1="675.2" y1="44.6" x2="675.2" y2="85.5"/><line x1="669.2" y1="44.6" x2="681.3" y2="44.6"/><line x1="669.2" y1="85.5" x2="681.3" y2="85.5"/></g>
<g stroke="#0000ff" stroke-width="1.5" fill="none"><line x1="649.3" y1="117.5" x2="702.4" y2="117.5"/><line x1="675.2" y1="97" x2="675.2" y2="137"/><line x1="669.2" y1="97" x2="681.3" y2="97"/><line x1="669.2" y1="137" x2="681.3" y2="137"/></g>
<text x="707.6" y="67.2" font-family="Liberation Sans" font-size="25.3">99m<tspan font-size="33" dx="1.5" dy="15.3">Tc</tspan></text>
<path d="M763 0H583V1147C540 1106 483 1064 412 1023C342 982 279 951 223 930V1104C324 1151 412 1209 487 1276C563 1343 616 1409 647 1472H763Z" transform="translate(707.80,119.40) scale(0.01235,-0.01235)" fill="#000"/>
<text x="721.87" y="119.4" font-family="Liberation Sans" font-size="25.3">23</text>
<text x="751.50" y="134.6" font-family="Liberation Sans" font-size="33">I</text>
</svg>
</body></html>
